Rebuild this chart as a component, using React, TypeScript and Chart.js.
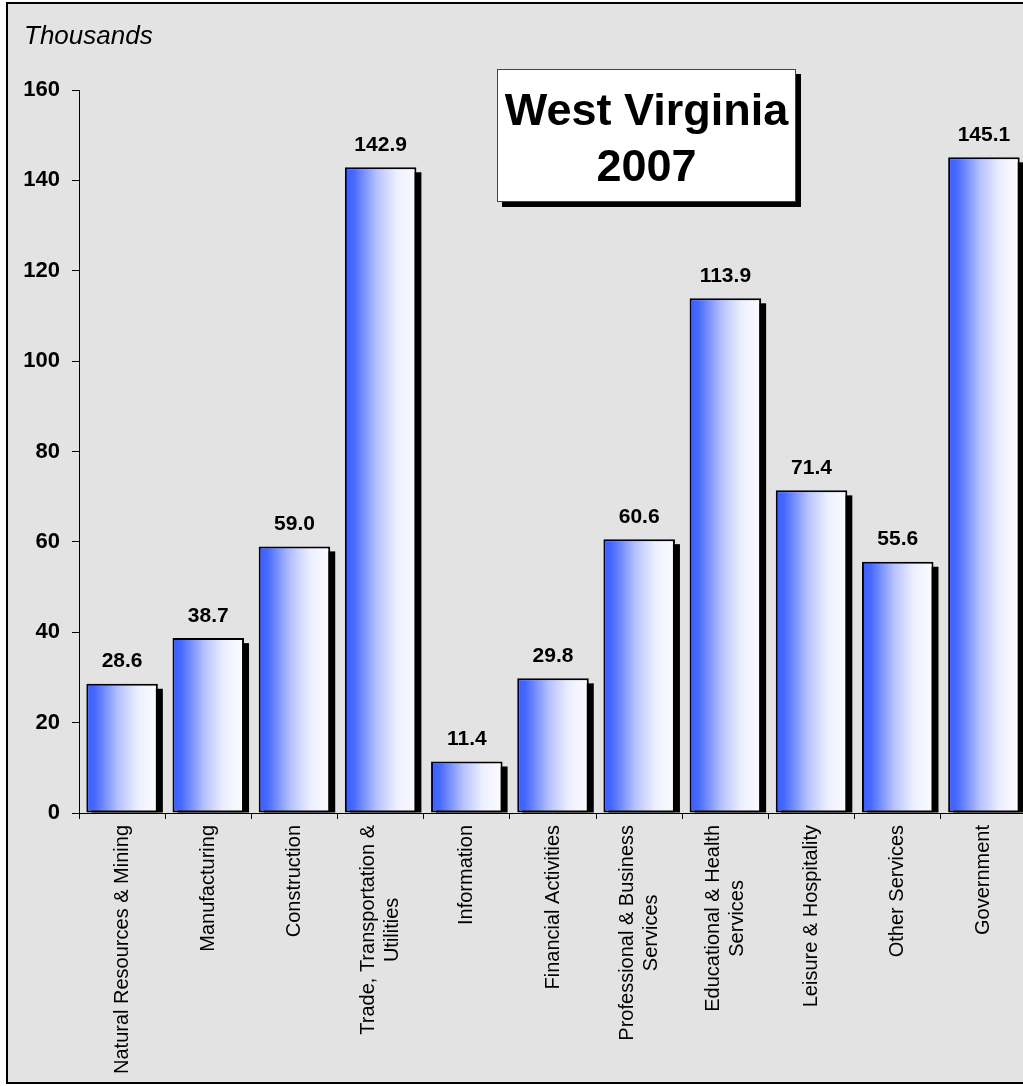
import React, { useEffect, useRef } from "react";
import { Chart, registerables } from "chart.js";

Chart.register(...registerables);

// ---------- data ----------
const categoryLines: string[][] = [
  ["Natural Resources & Mining"],
  ["Manufacturing"],
  ["Construction"],
  ["Trade, Transportation &", "Utilities"],
  ["Information"],
  ["Financial Activities"],
  ["Professional & Business", "Services"],
  ["Educational & Health", "Services"],
  ["Leisure & Hospitality"],
  ["Other Services"],
  ["Government"],
];
const categories: string[] = categoryLines.map((l) => l.join(" "));
const values: number[] = [28.6, 38.7, 59.0, 142.9, 11.4, 29.8, 60.6, 113.9, 71.4, 55.6, 145.1];
const yMin = 0;
const yMax = 160;
const yStep = 20;
const titleLines: string[] = ["West Virginia", "2007"];
const unitLabel = "Thousands";

// ---------- styling ----------
const FONT = "'Liberation Sans', Arial, Helvetica, sans-serif";
const CANVAS_W = 1040;
const CANVAS_H = 1086;
const BAR_PCT = 0.83;

const decorPlugin = {
  id: "decor",
  beforeDraw(chart: any) {
    const ctx = chart.ctx;
    ctx.save();
    ctx.fillStyle = "#ffffff";
    ctx.fillRect(0, 0, CANVAS_W, CANVAS_H);
    ctx.fillStyle = "#e3e3e3";
    ctx.fillRect(7, 3, CANVAS_W, 1080);
    ctx.strokeStyle = "#000";
    ctx.lineWidth = 2;
    ctx.strokeRect(7, 3, CANVAS_W + 10, 1080);
    ctx.restore();
  },
  beforeDatasetsDraw(chart: any) {
    const ctx = chart.ctx;
    const meta = chart.getDatasetMeta(0);
    ctx.save();
    ctx.fillStyle = "#000";
    meta.data.forEach((el: any) => {
      const p = el.getProps(["x", "y", "base", "width"], true);
      ctx.fillRect(p.x - p.width / 2 + 5, p.y + 5, p.width, p.base - p.y - 5);
    });
    ctx.restore();
  },
  afterDatasetsDraw(chart: any) {
    const ctx = chart.ctx;
    const meta = chart.getDatasetMeta(0);
    ctx.save();
    ctx.fillStyle = "#000";
    ctx.font = `bold 21px ${FONT}`;
    ctx.textAlign = "center";
    ctx.textBaseline = "alphabetic";
    meta.data.forEach((el: any, i: number) => {
      const p = el.getProps(["x", "y"], true);
      ctx.fillText(values[i].toFixed(1), p.x, p.y - 16.5);
    });
    ctx.restore();
  },
  afterDraw(chart: any) {
    const ctx = chart.ctx;
    const xs = chart.scales.x;
    ctx.save();
    // category labels, rotated
    ctx.fillStyle = "#000";
    ctx.font = `20px ${FONT}`;
    ctx.textAlign = "center";
    ctx.textBaseline = "middle";
    const lh = 24;
    categoryLines.forEach((lines, i) => {
      const cx = xs.getPixelForValue(i);
      const maxW = Math.max(...lines.map((l) => ctx.measureText(l).width));
      ctx.save();
      ctx.translate(cx, xs.top + 12);
      ctx.rotate(-Math.PI / 2);
      const n = lines.length;
      lines.forEach((l, j) => {
        ctx.fillText(l, -maxW / 2, (j - (n - 1) / 2) * lh);
      });
      ctx.restore();
    });

    // unit label
    ctx.font = `italic 26px ${FONT}`;
    ctx.textAlign = "left";
    ctx.textBaseline = "alphabetic";
    ctx.fillText(unitLabel, 24, 44);

    // title box
    const bx = 497, by = 69, bw = 299, bh = 133;
    ctx.fillStyle = "#000";
    ctx.fillRect(bx + 5, by + 5, bw, bh);
    ctx.fillStyle = "#fff";
    ctx.fillRect(bx, by, bw, bh);
    ctx.strokeStyle = "#444";
    ctx.lineWidth = 1;
    ctx.strokeRect(bx + 0.5, by + 0.5, bw - 1, bh - 1);
    ctx.fillStyle = "#000";
    ctx.font = `bold 45px ${FONT}`;
    ctx.textAlign = "center";
    ctx.fillText(titleLines[0], bx + bw / 2, 125);
    ctx.fillText(titleLines[1], bx + bw / 2, 181);
    ctx.restore();
  },
};

export default function App() {
  const ref = useRef<HTMLCanvasElement | null>(null);

  useEffect(() => {
    if (!ref.current) return;
    const chart = new Chart(ref.current, {
      type: "bar",
      data: {
        labels: categories,
        datasets: [
          {
            data: values,
            backgroundColor: (c: any) => {
              const ch = c.chart;
              const xs = ch.scales && ch.scales.x;
              if (!xs || c.dataIndex === undefined) return "#4466ff";
              const center = xs.getPixelForValue(c.dataIndex);
              const w = (xs.width / values.length) * BAR_PCT;
              if (!isFinite(center) || !isFinite(w) || w <= 0) return "#4466ff";
              const g = ch.ctx.createLinearGradient(center - w / 2, 0, center + w / 2, 0);
              g.addColorStop(0, "rgb(58,92,255)");
              g.addColorStop(0.12, "rgb(70,105,255)");
              g.addColorStop(0.45, "rgb(182,194,255)");
              g.addColorStop(0.72, "rgb(236,239,255)");
              g.addColorStop(1, "rgb(252,252,255)");
              return g;
            },
            borderColor: "#000",
            borderWidth: 2,
            borderSkipped: false,
            barPercentage: BAR_PCT,
            categoryPercentage: 1,
          } as any,
        ],
      },
      options: {
        responsive: false,
        maintainAspectRatio: false,
        animation: false,
        layout: { padding: { left: 0, top: 90, right: 13, bottom: 0 } },
        plugins: {
          legend: { display: false },
          tooltip: { enabled: false },
          title: { display: false },
        },
        scales: {
          x: {
            grid: {
              display: true,
              drawOnChartArea: false,
              drawTicks: true,
              tickLength: 6,
              color: "#000",
              lineWidth: 1,
              offset: true,
            },
            border: { display: true, color: "#000", width: 1 },
            ticks: { display: false },
            afterFit: (s: any) => {
              s.height = CANVAS_H - 813;
            },
          },
          y: {
            min: yMin,
            max: yMax,
            ticks: {
              stepSize: yStep,
              color: "#000",
              padding: 12,
              font: { family: FONT, size: 22, weight: "bold" },
            },
            grid: {
              drawOnChartArea: false,
              drawTicks: true,
              tickLength: 7,
              color: "#000",
              lineWidth: 1,
            },
            border: { display: true, color: "#000", width: 1 },
            afterFit: (s: any) => {
              s.width = 79;
            },
          },
        },
      } as any,
      plugins: [decorPlugin],
    });
    return () => chart.destroy();
  }, []);

  return (
    <div
      style={{
        position: "fixed",
        left: 0,
        top: 0,
        width: 1023,
        height: CANVAS_H,
        overflow: "hidden",
        background: "#fff",
      }}
    >
      <canvas ref={ref} width={CANVAS_W} height={CANVAS_H} style={{ display: "block" }} />
    </div>
  );
}
